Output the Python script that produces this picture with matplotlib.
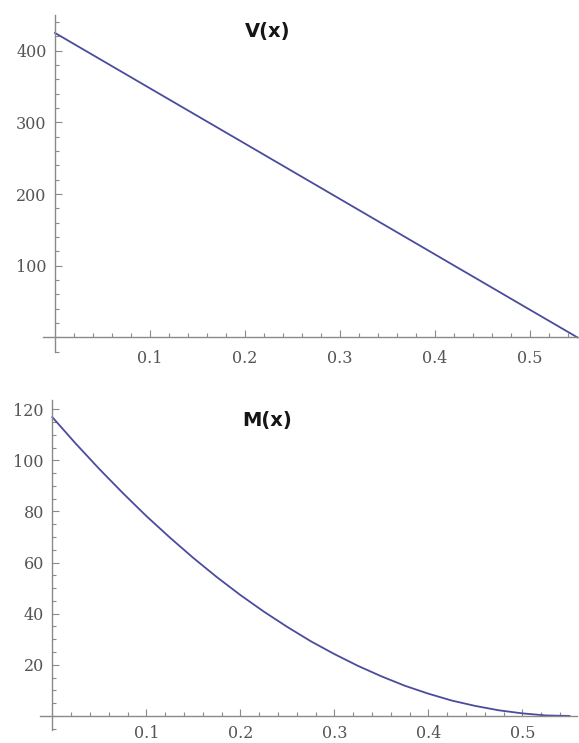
import numpy as np
import matplotlib
matplotlib.use("Agg")
import matplotlib.pyplot as plt
from matplotlib.ticker import MultipleLocator, FixedLocator

# --- data ---
v_x = [0.0, 0.1, 0.2, 0.3, 0.4, 0.5, 0.55]
v_y = [425, 347.7, 270.5, 193.2, 115.9, 38.6, 0]

m_x = [0.0, 0.025, 0.05, 0.075, 0.1, 0.125, 0.15, 0.175, 0.2, 0.225, 0.25, 0.275,
       0.3, 0.325, 0.35, 0.375, 0.4, 0.425, 0.45, 0.475, 0.5, 0.525, 0.55]
m_y = [116.9, 106.5, 96.6, 87.2, 78.2, 69.8, 61.8, 54.3, 47.3, 40.8, 34.8, 29.2,
       24.2, 19.6, 15.5, 11.8, 8.7, 6.0, 3.9, 2.2, 1.0, 0.2, 0.0]

x_ticks = [0.1, 0.2, 0.3, 0.4, 0.5]
v_ticks = [100, 200, 300, 400]
m_ticks = [20, 40, 60, 80, 100, 120]

LINE = "#4b4b9e"
AXIS = "#8a8a8a"
LABEL = "#555555"

W, H = 579, 743
fig = plt.figure(figsize=(W / 100, H / 100), dpi=100)
fig.patch.set_facecolor("white")


def px_axes(left, right, top, bottom):
    return fig.add_axes([left / W, 1 - bottom / H, (right - left) / W, (bottom - top) / H])


def style(ax, yticks, yminor, xpad):
    for s in ("top", "right"):
        ax.spines[s].set_visible(False)
    for s in ("left", "bottom"):
        ax.spines[s].set_position(("data", 0))
        ax.spines[s].set_color(AXIS)
        ax.spines[s].set_linewidth(1.0)
    ax.xaxis.set_major_locator(FixedLocator(x_ticks))
    ax.xaxis.set_minor_locator(FixedLocator([t for t in np.arange(0.02, 0.55, 0.02)
                                             if round(t * 50) % 5 != 0]))
    ax.yaxis.set_major_locator(FixedLocator(yticks))
    ax.yaxis.set_minor_locator(MultipleLocator(yminor))
    ax.tick_params(which="both", direction="in", color=AXIS, width=0.8)
    ax.tick_params(which="major", length=5)
    ax.tick_params(which="minor", length=3)
    ax.tick_params(axis="x", which="major", pad=xpad)
    ax.tick_params(axis="y", which="major", pad=6)
    for lab in ax.get_xticklabels() + ax.get_yticklabels():
        lab.set_family("DejaVu Serif")
        lab.set_fontsize(11.5)
        lab.set_color(LABEL)
    ax.set_facecolor("none")


# top panel: V(x)
ax1 = px_axes(43, 579, 15, 352)
ax1.plot(v_x, v_y, color=LINE, lw=1.3, clip_on=False)
ax1.set_xlim(-0.0126, 0.5516)
ax1.set_ylim(-20.3, 450)
style(ax1, v_ticks, 20, 9)
ax1.xaxis.set_major_formatter(plt.FuncFormatter(lambda v, p: f"{v:.1f}"))

# bottom panel: M(x)
ax2 = px_axes(40, 577, 400, 730)
ax2.plot(m_x, m_y, color=LINE, lw=1.3, clip_on=False)
ax2.set_xlim(-0.0131, 0.558)
ax2.set_ylim(-5.5, 123.6)
style(ax2, m_ticks, 5, 6.5)
ax2.xaxis.set_major_formatter(plt.FuncFormatter(lambda v, p: f"{v:.1f}"))

# titles
fig.text(268 / W, 1 - 32 / H, "V(x)", ha="center", va="center",
         family="DejaVu Sans", fontweight="bold", fontsize=14, color="#151515")
fig.text(267 / W, 1 - 420 / H, "M(x)", ha="center", va="center",
         family="DejaVu Sans", fontweight="bold", fontsize=14, color="#151515")

fig.savefig("out.png", dpi=100)
